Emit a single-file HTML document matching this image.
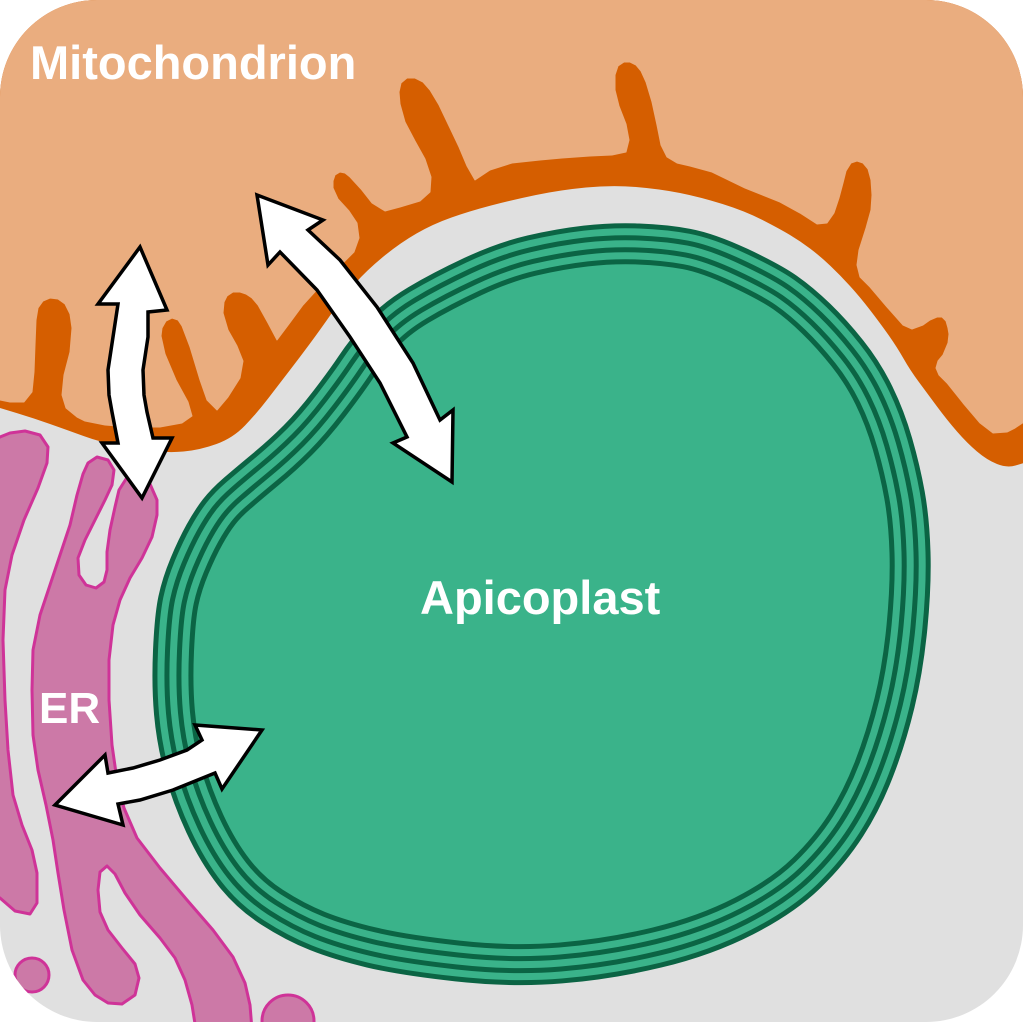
<!DOCTYPE html>
<html>
<head>
<meta charset="utf-8">
<style>
  html, body { margin: 0; padding: 0; background: #ffffff; }
  svg { display: block; }
  .lbl { font-family: "Liberation Sans", Arial, sans-serif; font-weight: bold; fill: #ffffff; }
</style>
</head>
<body>
<svg width="1024" height="1023" viewBox="0 0 1024 1023" xmlns="http://www.w3.org/2000/svg">
  <defs>
    <clipPath id="frame">
      <rect x="0" y="0" width="1023" height="1022" rx="97" ry="97"/>
    </clipPath>
  </defs>
  <g clip-path="url(#frame)">
    <!-- background -->
    <rect x="0" y="0" width="1024" height="1023" fill="#e0e0e0"/>

    <!-- Mitochondrion outer membrane (orange) -->
    <path fill="#d55e00" d="M-5,-5 L1030,-5 L1030,462 L1024,463 L1015.5,465.5
      Q1007,468 997,464 Q987,460 977,451.5 Q967,443 957,431.5 Q947,420 937,406.5
      Q927,393 918.5,381.5 Q910,370 903.5,358.5 Q897,347 888.5,335 Q880,323 870,310
      Q860,297 850,286 Q840,275 830,265.5 Q820,256 810,248.5 Q800,241 790,235
      Q780,229 762.5,220 Q745,211 722.5,204 Q700,197 680,193 Q660,189 636,187
      Q612,185 586,187.5 Q560,190 536,195 Q512,200 491,205.5 Q470,211 451.5,217.5
      Q433,224 416.5,233.5 Q400,243 383.5,256.5
      Q367,270 355,283.5 Q343,297 331.5,313.5 Q320,330 310,343.5 Q300,357 290,370
      Q280,383 268.5,398 Q257,413 245,425.5 Q233,438 216.5,444 Q200,450 183.5,451.5
      Q167,453 150,450.5 Q133,448 116.5,445 Q100,442 83.5,436 Q67,430 50,424
      Q33,418 16.5,413 L0,408 L-5,408 Z"/>

    <!-- Mitochondrion matrix (peach) with cristae notches -->
    <polygon fill="#eaad7f" stroke="#eaad7f" stroke-width="1" stroke-linejoin="round" points="-5,-5 1030,-5 1030,419 1024,422 1015,428 1007,432 993,433 980,423 963,403 947,383 939,375 936,368 938,361 943,355 948,343 949,334 948,328 946,321 942,317 937,317 930,320 923,325 912,329 903,325 887,307 870,287 860,277 857,265 859,250 866,228 871,210 872,195 871,180 868,169 863,163 857,161 851,163 846,171 843,183 839,198 834,213 827,223 817,224 800,213 780,202 745,188 712,172 690,166 677,163 667,157 661,145 657,125 652,102 646,82 641,71 636,65 630,62 624,62 618,66 615,75 615,90 619,106 626,124 629,140 626,152 612,155 590,156 562,158 540,160 512,163 490,170 475,180 467,166 459,147 449,126 439,105 430,90 423,82 415,78 407,78 401,83 399,92 400,104 405,122 415,141 425,159 431,177 430,192 420,201 400,207 385,211 372,203 361,189 350,177 345,173 340,172 335,175 333,181 333,188 338,199 349,211 357,223 359,238 354,252 343,263 323,283 303,305 289,324 277,340 268,323 258,305 252,298 246,294 240,292 233,292 227,296 224,302 223,313 228,330 237,346 243,361 240,378 228,397 217,410 207,400 200,380 190,347 182,326 178,320 172,318 166,321 162,328 161,336 165,354 176,380 188,402 192,416 182,423 160,427 130,427 105,425 85,421 77,417 66,408 62,395 64,375 70,352 72,328 70,314 65,304 58,299 50,298 43,301 38,308 36,320 35,345 34,372 32,392 24,402 10,402 0,400 -5,400"/>

    <!-- ER -->
    <g fill="#cc79a7" stroke="#cf3398" stroke-width="3" stroke-linejoin="round">
      <polygon points="-5,440 0,437 10,433 25,431 40,435 48,447 47,463 38,488 24,520 12,555 5,590 3,640 5,700 8,750 13,795 22,825 32,850 37,873 37,903 30,914 15,911 0,898 -5,895"/>
      <polygon points="97,457 108,460 114,470 112,485 105,500 95,520 85,540 78,558 79,575 86,585 96,588 104,582 107,570 107,552 110,530 115,507 119,490 126,479 137,476 150,484 157,500 157,515 152,537 142,558 130,578 120,600 113,625 109,660 109,700 112,745 117,780 124,808 137,838 160,868 187,900 213,930 233,957 245,983 250,1005 252,1030 196,1030 192,1005 185,980 175,958 160,938 140,915 125,893 115,874 107,866 100,872 98,890 100,912 108,930 122,948 135,964 139,978 135,995 122,1004 108,1003 95,995 83,980 72,950 64,910 58,873 53,840 46,805 38,770 33,735 32,690 33,650 40,615 50,585 60,555 70,525 77,495 83,474 88,463"/>
      <circle cx="32" cy="975" r="17"/>
      <circle cx="288" cy="1021" r="26"/>
    </g>

    <!-- Apicoplast -->
    <g>
      <path fill="#3ab38a" stroke="#0b6444" stroke-width="41" d="M473,276.5
        Q504,262 532,255.5 Q560,249 586,246 Q612,243 638.5,244 Q665,245 686.5,249
        Q708,253 739,267.5 Q770,282 785,292.5 Q800,303 816,318.5 Q832,334 847.5,353.5
        Q863,373 874,395.5 Q885,418 892.5,444 Q900,470 904.5,495 Q909,520 910,552.5
        Q911,585 907,626.5 Q903,668 894.5,703 Q886,738 874,769 Q862,800 846,825
        Q830,850 806.5,873 Q783,896 744,916 Q705,936 657,947.5 Q609,959 560.5,963
        Q512,967 457.5,961 Q403,955 371.5,947.5 Q340,940 317.5,931 Q295,922 272.5,907.5
        Q250,893 234,872.5 Q218,852 205,824 Q192,796 184.5,768.5 Q177,741 174.5,713
        Q172,685 173.5,651 Q175,617 178.5,600.5 Q182,584 189.5,566 Q197,548 204.5,534.5
        Q212,521 219,512 Q226,503 237,493.5 Q248,484 265.5,469.5 Q283,455 298,440
        Q313,425 329.5,403.5 Q346,382 356,367 Q366,352 380.5,335.5 Q395,319 418.5,305
        Q442,291 473,276.5 Z"/>
      <path fill="none" stroke="#3ab38a" stroke-width="31" d="M473,276.5
        Q504,262 532,255.5 Q560,249 586,246 Q612,243 638.5,244 Q665,245 686.5,249
        Q708,253 739,267.5 Q770,282 785,292.5 Q800,303 816,318.5 Q832,334 847.5,353.5
        Q863,373 874,395.5 Q885,418 892.5,444 Q900,470 904.5,495 Q909,520 910,552.5
        Q911,585 907,626.5 Q903,668 894.5,703 Q886,738 874,769 Q862,800 846,825
        Q830,850 806.5,873 Q783,896 744,916 Q705,936 657,947.5 Q609,959 560.5,963
        Q512,967 457.5,961 Q403,955 371.5,947.5 Q340,940 317.5,931 Q295,922 272.5,907.5
        Q250,893 234,872.5 Q218,852 205,824 Q192,796 184.5,768.5 Q177,741 174.5,713
        Q172,685 173.5,651 Q175,617 178.5,600.5 Q182,584 189.5,566 Q197,548 204.5,534.5
        Q212,521 219,512 Q226,503 237,493.5 Q248,484 265.5,469.5 Q283,455 298,440
        Q313,425 329.5,403.5 Q346,382 356,367 Q366,352 380.5,335.5 Q395,319 418.5,305
        Q442,291 473,276.5 Z"/>
      <path fill="none" stroke="#0b6444" stroke-width="17" d="M473,276.5
        Q504,262 532,255.5 Q560,249 586,246 Q612,243 638.5,244 Q665,245 686.5,249
        Q708,253 739,267.5 Q770,282 785,292.5 Q800,303 816,318.5 Q832,334 847.5,353.5
        Q863,373 874,395.5 Q885,418 892.5,444 Q900,470 904.5,495 Q909,520 910,552.5
        Q911,585 907,626.5 Q903,668 894.5,703 Q886,738 874,769 Q862,800 846,825
        Q830,850 806.5,873 Q783,896 744,916 Q705,936 657,947.5 Q609,959 560.5,963
        Q512,967 457.5,961 Q403,955 371.5,947.5 Q340,940 317.5,931 Q295,922 272.5,907.5
        Q250,893 234,872.5 Q218,852 205,824 Q192,796 184.5,768.5 Q177,741 174.5,713
        Q172,685 173.5,651 Q175,617 178.5,600.5 Q182,584 189.5,566 Q197,548 204.5,534.5
        Q212,521 219,512 Q226,503 237,493.5 Q248,484 265.5,469.5 Q283,455 298,440
        Q313,425 329.5,403.5 Q346,382 356,367 Q366,352 380.5,335.5 Q395,319 418.5,305
        Q442,291 473,276.5 Z"/>
      <path fill="none" stroke="#3ab38a" stroke-width="7" d="M473,276.5
        Q504,262 532,255.5 Q560,249 586,246 Q612,243 638.5,244 Q665,245 686.5,249
        Q708,253 739,267.5 Q770,282 785,292.5 Q800,303 816,318.5 Q832,334 847.5,353.5
        Q863,373 874,395.5 Q885,418 892.5,444 Q900,470 904.5,495 Q909,520 910,552.5
        Q911,585 907,626.5 Q903,668 894.5,703 Q886,738 874,769 Q862,800 846,825
        Q830,850 806.5,873 Q783,896 744,916 Q705,936 657,947.5 Q609,959 560.5,963
        Q512,967 457.5,961 Q403,955 371.5,947.5 Q340,940 317.5,931 Q295,922 272.5,907.5
        Q250,893 234,872.5 Q218,852 205,824 Q192,796 184.5,768.5 Q177,741 174.5,713
        Q172,685 173.5,651 Q175,617 178.5,600.5 Q182,584 189.5,566 Q197,548 204.5,534.5
        Q212,521 219,512 Q226,503 237,493.5 Q248,484 265.5,469.5 Q283,455 298,440
        Q313,425 329.5,403.5 Q346,382 356,367 Q366,352 380.5,335.5 Q395,319 418.5,305
        Q442,291 473,276.5 Z"/>
    </g>

    <!-- Arrows -->
    <g fill="#ffffff" stroke="#000000" stroke-width="3.5" stroke-linejoin="miter" stroke-miterlimit="10">
      <polygon points="140,247 167,310 148,312 148,337 143,370 144,395 147,412 153,438 172,438 142,498 102,443 118,443 112,412 109,395 108,370 113,337 118,304 98,304"/>
      <polygon points="257,195 323,220 308,230 340,260 377,307 413,363 440,420 453,410 452,482 393,443 407,437 380,383 350,337 317,290 280,252 268,265"/>
      <polygon points="55,805 105,755 108,773 133,768 160,760 187,750 202,740 195,725 262,730 222,789 215,773 173,790 140,800 118,804 123,825"/>
    </g>

    <!-- Labels -->
    <text class="lbl" x="30" y="79" font-size="47">Mitochondrion</text>
    <text class="lbl" x="420" y="614" font-size="47">Apicoplast</text>
    <text class="lbl" x="39" y="723" font-size="44">ER</text>
  </g>
</svg>
</body>
</html>
